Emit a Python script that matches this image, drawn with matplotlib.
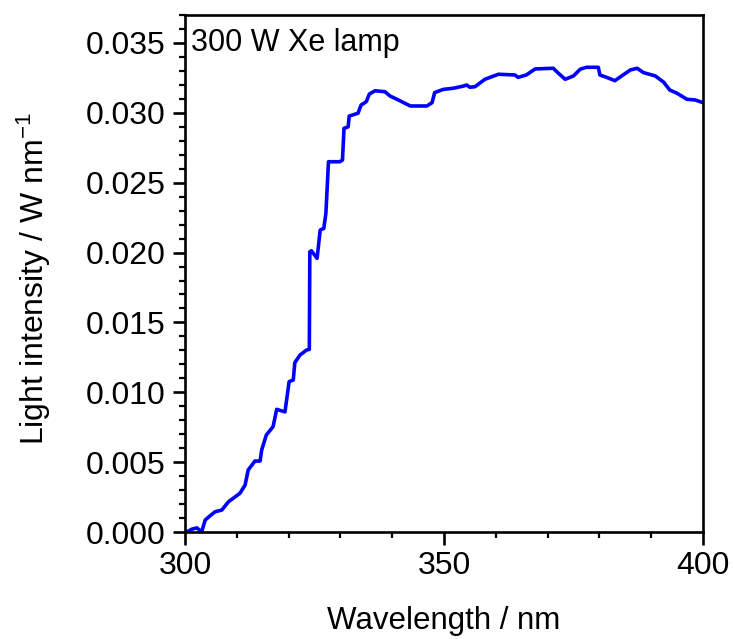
import matplotlib
matplotlib.use("Agg")
import matplotlib.pyplot as plt
from matplotlib.ticker import MultipleLocator

# values
wavelength = [300.3, 301.3, 302.3, 303.2, 303.9, 304.8, 305.8, 307.1, 308.4, 310.6,
              311.6, 312.2, 313.5, 314.5, 314.8, 315.7, 317.0, 317.7, 319.3, 320.1,
              320.9, 321.2, 322.2, 323.5, 324.0, 324.1, 324.4, 325.5, 326.1, 326.8,
              327.2, 327.7, 329.9, 330.4, 330.7, 331.5, 331.7, 333.4, 334.0, 335.0,
              335.6, 336.7, 338.6, 339.6, 341.2, 342.2, 343.5, 346.7, 347.7, 348.2,
              349.9, 351.8, 353.8, 354.4, 355.0, 356.0, 357.9, 360.5, 363.7, 364.3,
              365.9, 367.6, 371.1, 372.1, 373.4, 375.0, 376.3, 377.5, 379.8, 380.1,
              381.4, 383.0, 384.3, 386.0, 387.3, 388.5, 390.8, 392.4, 393.6, 395.0,
              396.9, 398.5, 400.0]
intensity = [0.0000, 0.0002, 0.0003, 0.0000, 0.00086, 0.00115, 0.00145, 0.00157, 0.00217, 0.00277,
             0.00336, 0.00444, 0.00508, 0.00508, 0.00587, 0.00694, 0.00754, 0.00878, 0.00860, 0.01076,
             0.01088, 0.01212, 0.01267, 0.01303, 0.01307, 0.02006, 0.02013, 0.01959, 0.02161, 0.02173,
             0.02281, 0.02650, 0.02650, 0.02662, 0.02889, 0.02900, 0.02977, 0.02997, 0.03056, 0.03080,
             0.03135, 0.03158, 0.03151, 0.03120, 0.03092, 0.03073, 0.03049, 0.03049, 0.03073, 0.03145,
             0.03168, 0.03176, 0.03192, 0.03199, 0.03183, 0.03187, 0.03240, 0.03276, 0.03271, 0.03254,
             0.03271, 0.03314, 0.03319, 0.03283, 0.03240, 0.03264, 0.03312, 0.03326, 0.03326, 0.03271,
             0.03254, 0.03230, 0.03264, 0.03307, 0.03319, 0.03288, 0.03264, 0.03220, 0.03163, 0.03140,
             0.03097, 0.03092, 0.03073]
y_ticks = [0.000, 0.005, 0.010, 0.015, 0.020, 0.025, 0.030, 0.035]
x_ticks = [300, 350, 400]

plt.rcParams['font.family'] = ['Liberation Sans', 'DejaVu Sans']
plt.rcParams['mathtext.default'] = 'regular'

fig = plt.figure(figsize=(7.33, 6.39), dpi=100)
ax = fig.add_axes([0.2524, 0.1674, 0.7066, 0.8091])

ax.plot(wavelength, intensity, color='#0000ff', linewidth=2.6)

ax.set_xlim(300, 400)
ax.set_ylim(0, 0.037)
ax.set_xticks(x_ticks)
ax.set_yticks(y_ticks)
ax.set_yticklabels([f"{v:.3f}" for v in y_ticks])
ax.xaxis.set_minor_locator(MultipleLocator(10))
ax.yaxis.set_minor_locator(MultipleLocator(0.001))

for s in ax.spines.values():
    s.set_linewidth(1.9)
ax.tick_params(which='major', direction='out', length=9, width=1.9, labelsize=23, pad=5)
ax.tick_params(which='minor', direction='out', length=4.5, width=1.6)

ax.set_xlabel('Wavelength / nm', fontsize=22.5, labelpad=18)
ax.set_ylabel('Light intensity / W nm$^{-1}$', fontsize=23)
ax.yaxis.set_label_coords(-0.255, 0.49)

ax.text(0.012, 0.975, '300 W Xe lamp', transform=ax.transAxes, fontsize=22,
        ha='left', va='top')

fig.savefig('out.png', dpi=100)
